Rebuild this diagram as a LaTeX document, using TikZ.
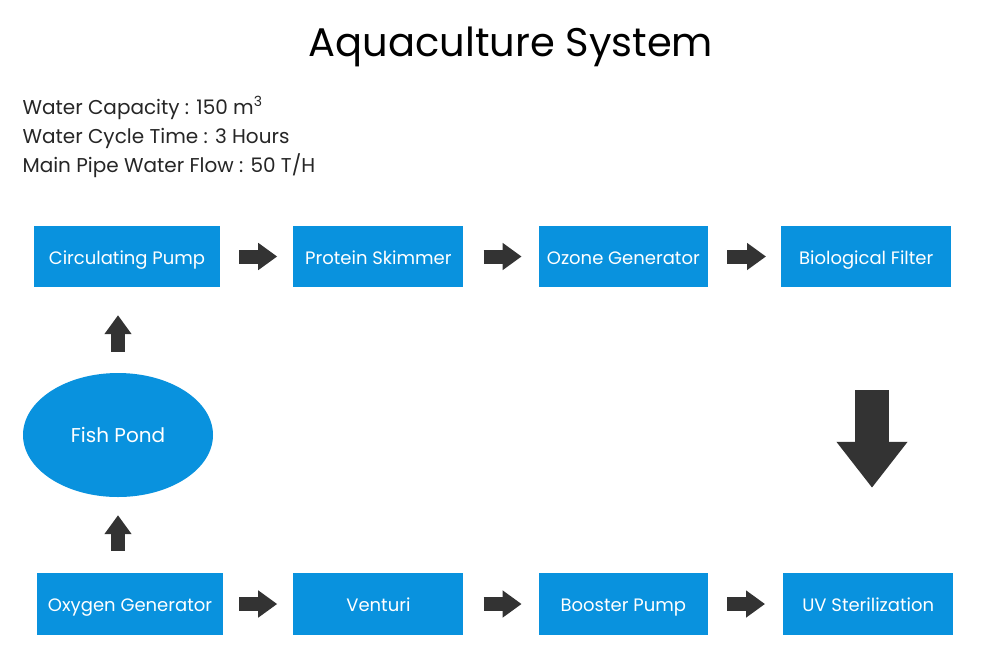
\documentclass[tikz,border=0pt]{standalone}
\usepackage{fontspec}
\setmainfont{Poppins}
\usetikzlibrary{arrows.meta,positioning,shapes.geometric}
\definecolor{boxblue}{RGB}{9,146,222}
\definecolor{arrowgray}{RGB}{51,51,51}

\begin{document}
\begin{tikzpicture}[x=1pt,y=-1pt,node distance=73pt,
                    font=\fontsize{18}{22}\selectfont]
  \tikzset{stage/.style={rectangle,fill=boxblue,text=white,minimum height=61pt,
                         text height=16pt,text depth=1pt,inner sep=0pt},
           pond/.style={ellipse,fill=boxblue,text=white,minimum width=190pt,
                        minimum height=124pt,inner sep=0pt},
           flow/.style={arrowgray,line width=14pt,
                        -{Triangle[width=26pt,length=19pt]}},
           bigflow/.style={arrowgray,line width=34pt,
                           -{Triangle[width=68pt,length=46pt]}}}

  \useasboundingbox[fill=white] (0,0) rectangle (1000,667);

  \node (title) at (511,47) {\fontsize{40}{48}\selectfont Aquaculture System};
  \node[anchor=north west,align=left,text=black!85,
        font=\fontsize{20}{29}\selectfont] (info) at (19,93)
       {Water Capacity : 150 m\textsuperscript{3}\\
        Water Cycle Time : 3 Hours\\
        Main Pipe Water Flow : 50 T/H};

  % top row
  \node[stage,minimum width=186pt] (cp) at (127,256.5) {Circulating Pump};
  \node[stage,minimum width=170pt] (ps) [right=of cp] {Protein Skimmer};
  \node[stage,minimum width=169pt] (og) [right=75pt of ps] {Ozone Generator};
  \node[stage,minimum width=170pt] (bf) [right=of og] {Biological Filter};

  % bottom row
  \node[stage,minimum width=186pt,minimum height=62pt] (ox) at (130,604) {Oxygen Generator};
  \node[stage,minimum width=170pt,minimum height=62pt] (ve) [right=70pt of ox] {Venturi};
  \node[stage,minimum width=169pt,minimum height=62pt] (bp) [right=75pt of ve] {Booster Pump};
  \node[stage,minimum width=170pt,minimum height=62pt] (uv) [right=75pt of bp] {UV Sterilization};

  \node[pond] (fp) at (118,435) {\fontsize{20}{24}\selectfont Fish Pond};

  \draw[flow,shorten <=19pt,shorten >=16pt] (cp) -- (ps);
  \draw[flow,shorten <=20pt,shorten >=17pt] (ps) -- (og);
  \draw[flow,shorten <=19pt,shorten >=15pt] (og) -- (bf);
  \draw[flow,shorten <=16pt,shorten >=16pt] (ox) -- (ve);
  \draw[flow,shorten <=20pt,shorten >=17pt] (ve) -- (bp);
  \draw[flow,shorten <=19pt,shorten >=18pt] (bp) -- (uv);
  \draw[flow,shorten <=21pt,shorten >=28pt] (fp.north) -- (fp.north |- cp.south);
  \draw[flow,shorten <=22pt,shorten >=18pt] (fp.south |- ox.north) -- (fp.south);
  \draw[bigflow,shorten <=103pt,shorten >=85pt] (bf.south -| 872,0) -- (uv.north -| 872,0);
\end{tikzpicture}
\end{document}
